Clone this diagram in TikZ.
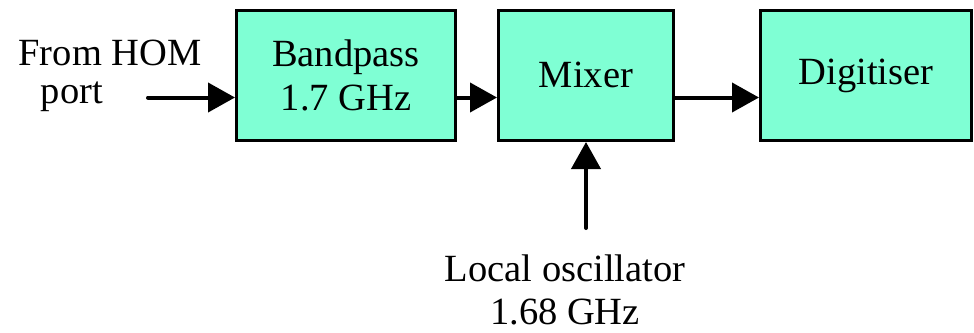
\documentclass[tikz,border=0pt]{standalone}
\usepackage{fontspec}
\setmainfont{Liberation Serif}
\usetikzlibrary{arrows.meta}
\definecolor{boxfill}{RGB}{127,255,212}
\begin{document}
\begin{tikzpicture}[x=1pt,y=-1pt,
  block/.style={draw=black,fill=boxfill,line width=3pt,minimum height=130pt,inner sep=0pt,align=center,font=\fontsize{38.5}{44}\selectfont},
  lbl/.style={inner sep=0pt,align=center,font=\fontsize{38.5}{43}\selectfont},
  conn/.style={line width=4pt,line cap=round,-{Triangle[length=27pt,width=29pt]}}]
\useasboundingbox (0,0) rectangle (974,332);
\node[block,minimum width=219pt] (bp) at (346,75.5) {Bandpass\\1.7 GHz};
\node[block,minimum width=175pt] (mx) at (586,75.5) {\raisebox{2pt}{Mixer}};
\node[block,minimum width=211pt] (dg) at (866,75.5) {\raisebox{2pt}{Digitiser}};
\node[lbl] (from) at (110,53) {From HOM};
\node[lbl] (port) at (72,97) {port};
\node[lbl] (lo) at (565,290) {Local oscillator\\1.68 GHz};
\coordinate (row) at (0,97.5);
\coordinate (in) at (148,97.5);
\coordinate (lotail) at (586,228);
\draw[conn] (in) -- (in -| bp.west);
\draw[conn] (bp.east |- row) -- (mx.west |- row);
\draw[conn] (mx.east |- row) -- (dg.west |- row);
\draw[conn] (lotail) -- (mx.south);
\end{tikzpicture}
\end{document}
